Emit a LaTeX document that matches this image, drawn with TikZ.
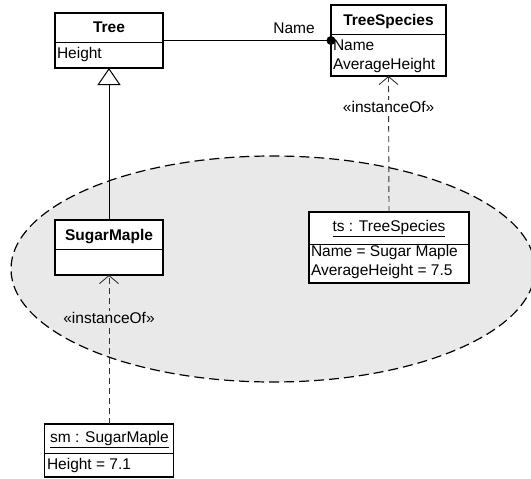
\documentclass[tikz,border=0pt]{standalone}
\usepackage{fontspec}
\setmainfont{Liberation Sans}
\usetikzlibrary{arrows.meta}
\definecolor{ellgray}{RGB}{233,233,233}
\tikzset{
  umlbox/.style={draw=black, line width=1.2pt, fill=white, inner sep=0pt, outer sep=0pt},
  divider/.style={draw=black, line width=1pt},
  txt/.style={inner sep=0pt, outer sep=0pt, font=\fontsize{15.5}{18}\selectfont},
  ttl/.style={txt, font=\fontsize{15.5}{18}\selectfont\bfseries},
  lbl/.style={txt, inner sep=1.5pt},
  instof/.style={draw=black!80, line width=0.9pt, dash pattern=on 6pt off 4pt,
    -{Straight Barb[length=8pt,width=19pt,line width=0.9pt]}},
  genl/.style={draw=black, line width=1pt,
    -{Triangle[open,length=17pt,width=23pt,line width=1pt,fill=white]}},
  region/.style={draw=black, line width=1.2pt, dash pattern=on 10pt off 5pt, fill=ellgray}
}
\begin{document}
\begin{tikzpicture}[x=1pt,y=-1pt]
\useasboundingbox (0,0) rectangle (531,479);
% grouping ellipse
\draw[region] (273,269) ellipse [x radius=262pt, y radius=113pt];
% boxes
\node[umlbox, minimum width=108pt, minimum height=55pt] (tree) at (109,40.5) {};
\node[umlbox, minimum width=115pt, minimum height=71pt] (tsp) at (388.5,40.5) {};
\node[umlbox, minimum width=108pt, minimum height=55pt] (sugar) at (109,247.5) {};
\node[umlbox, minimum width=160pt, minimum height=71pt] (ts) at (389,247.5) {};
\node[umlbox, minimum width=129pt, minimum height=53pt] (sm) at (109,450.5) {};
% dividers
\draw[divider] (tree.west |- 0,42) -- (tree.east |- 0,42);
\draw[divider] (tsp.west |- 0,34) -- (tsp.east |- 0,34);
\draw[divider] (sugar.west |- 0,249.5) -- (sugar.east |- 0,249.5);
\draw[divider] (ts.west |- 0,244) -- (ts.east |- 0,244);
\draw[divider] (sm.west |- 0,453) -- (sm.east |- 0,453);
% texts
\node[ttl, anchor=base] (treeT) at (109,32.5) {Tree};
\node[txt, anchor=base west] (treeA) at (57,58) {Height};
\node[ttl, anchor=base] (tspT) at (388.5,25) {TreeSpecies};
\node[txt, anchor=base west] (tspA) at (333,50) {Name};
\node[txt, anchor=base west] (tspB) at (333,69) {AverageHeight};
\node[ttl, anchor=base] (sugarT) at (109,240) {SugarMaple};
\node[txt, anchor=base] (tsT) at (389,231.5) {\underline{ts : TreeSpecies}};
\node[txt, anchor=base west] (tsA) at (311,256.5) {Name = Sugar Maple};
\node[txt, anchor=base west] (tsB) at (311,275) {AverageHeight = 7.5};
\node[txt, anchor=base] (smT) at (109.5,442.5) {\underline{sm : SugarMaple}};
\node[txt, anchor=base west] (smA) at (47,469) {Height = 7.1};
% association
\draw[line width=1pt] (tree.east) -- (tsp.west);
\fill (tsp.west) circle (4.5pt);
\node[txt, anchor=base] (assocL) at (294,33.3) {Name};
% generalization
\draw[genl] (sugar.north) -- (tree.south);
% instanceOf dependencies
\draw[instof] (ts.north) -- node[pos=0.77, lbl, fill=white] (io1) {«instanceOf»} (tsp.south);
\draw[instof] (sm.north) -- node[pos=0.71, lbl, fill=ellgray] (io2) {«instanceOf»} (sugar.south);
\end{tikzpicture}
\end{document}
